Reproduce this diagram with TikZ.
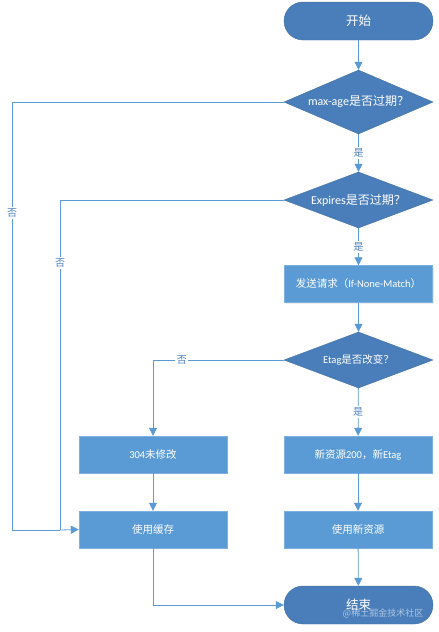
\documentclass[tikz,border=0pt]{standalone}
\usepackage{fontspec}
\setmainfont{Carlito}
\newfontfamily\cjk{Noto Sans CJK SC}
\usetikzlibrary{shapes.geometric,arrows.meta,shadows}
\definecolor{darkfill}{HTML}{4A7EBB}
\definecolor{darkedge}{HTML}{41719C}
\definecolor{boxfill}{HTML}{5B9BD5}
\definecolor{boxedge}{HTML}{7EB0DF}
\definecolor{linecol}{HTML}{5B9BD5}
\definecolor{labcol}{HTML}{4E81BD}
\begin{document}
\begin{tikzpicture}[x=1pt,y=-1pt,
  term/.style={draw=darkedge,fill=darkfill,rounded corners=19pt,minimum width=149pt,minimum height=38pt,inner sep=0pt,text=white,font=\cjk\fontsize{12.5}{14}\selectfont},
  dec/.style={diamond,draw=darkedge,fill=darkfill,minimum width=149pt,inner sep=0pt,text=white,font=\fontsize{12}{14}\selectfont},
  proc/.style={draw=boxedge,fill=boxfill,minimum width=148pt,minimum height=37pt,inner sep=0pt,text=white,font=\fontsize{10.5}{12}\selectfont,drop shadow={shadow xshift=1pt,shadow yshift=-1pt,opacity=0.15}},
  conn/.style={draw=linecol,line width=0.8pt,-{Triangle[width=8pt,length=8pt]}},
  plain/.style={draw=linecol,line width=0.8pt},
  lab/.style={fill=white,text=labcol,inner sep=1.5pt,font=\cjk\fontsize{10}{12}\selectfont}
]
\useasboundingbox (0,0) rectangle (439,632);
\fill[white] (0,0) rectangle (439,632);

\node[term] (start) at (358.5,21) {开始};
\node[dec,aspect=2.33,minimum height=64pt] (d1) at (358.5,102) {max-age{\cjk 是否过期？}};
\node[dec,aspect=2.66,minimum height=56pt] (d2) at (358.5,200) {Expires{\cjk 是否过期？}};
\node[proc] (send) at (358.5,284) {{\cjk 发送请求（}If-None-Match{\cjk ）}};
\node[dec,aspect=2.66,minimum height=56pt,font=\fontsize{10.5}{12}\selectfont] (d3) at (358.5,360) {Etag{\cjk 是否改变？}};
\node[proc] (b304) at (153,454.5) {304{\cjk 未修改}};
\node[proc] (bnew) at (358,454.5) {{\cjk 新资源}200{\cjk ，新}Etag};
\node[proc] (cache) at (153,529.5) {\cjk 使用缓存};
\node[proc] (usenew) at (358,529.5) {\cjk 使用新资源};
\node[term] (end) at (358.5,605) {结束};

\coordinate (l1a) at (12,102);
\coordinate (l1b) at (12,530);
\coordinate (l2a) at (60,200);
\coordinate (l2b) at (60,530);

\draw[conn] (start) -- (d1);
\draw[conn] (d1) -- node[lab] {是} (d2);
\draw[conn] (d2) -- node[lab] {是} (send);
\draw[conn] (send) -- (d3);
\draw[conn] (d3) -- node[lab] {是} (bnew);
\draw[conn] (d3.west) -| node[lab,pos=0.39] {否} (b304.north);
\draw[conn] (b304) -- (cache);
\draw[conn] (bnew) -- (usenew);
\draw[conn] (usenew) -- (end);
\draw[conn] (cache.south) |- (end.west);
\draw[plain] (d1.west) -- (l1a) -- node[lab,pos=0.26] {否} (l1b) -- (l2b);
\draw[plain] (d2.west) -- (l2a) -- node[lab,pos=0.19] {否} (l2b);
\draw[conn] (l2b) -- (cache.west);

\node[text=white,opacity=0.55,font=\cjk\fontsize{9}{11}\selectfont] (wm) at (383,613) {@稀土掘金技术社区};
\end{tikzpicture}
\end{document}
